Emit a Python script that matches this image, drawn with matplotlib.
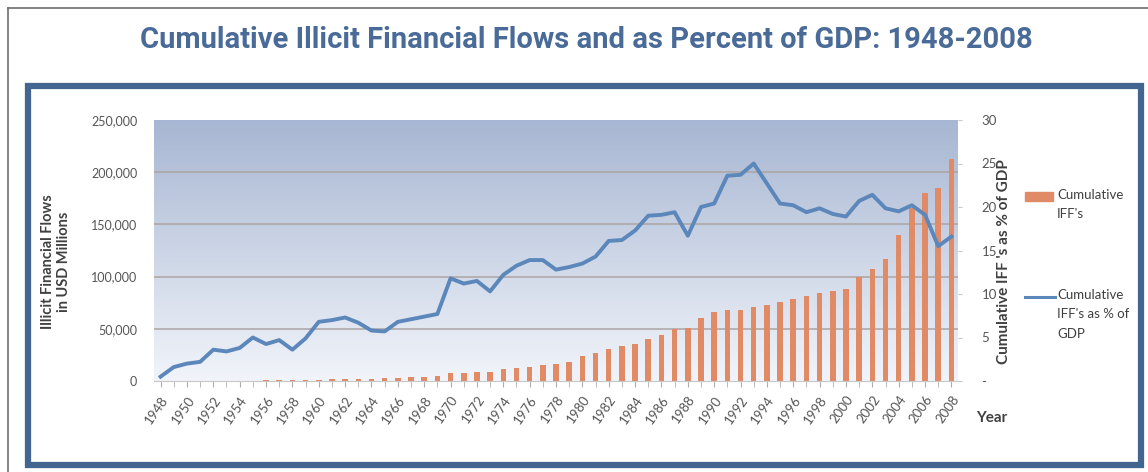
import numpy as np
import matplotlib
matplotlib.use("Agg")
import matplotlib.pyplot as plt
from matplotlib.patches import Rectangle
from matplotlib.lines import Line2D

years = list(range(1948, 2009))

# cumulative illicit financial flows, USD millions
iff = [100, 150, 200, 250, 300, 350, 400, 450,
       500, 600, 800, 1000, 1300, 1500, 1800, 2000, 2200, 2400, 2800,
       3500, 4100, 4800, 7700, 7700, 8600, 8600, 11200, 12100, 13700,
       15600, 16300, 18500, 23600, 26500, 31000, 33800, 35700, 40500,
       44000, 50000,
       51000, 60000, 66400, 68000, 68300, 70600, 73100, 75400, 78500,
       81400, 84600, 86500, 87800, 99900, 107600, 116900, 139600,
       165400, 180400, 184600, 212600]

# cumulative IFFs as % of GDP
pct = [0.5, 1.6, 2.0, 2.2, 3.6, 3.4, 3.8, 5.0, 4.25, 4.7, 3.6, 4.9,
       6.8, 7.0, 7.3, 6.7, 5.8, 5.7, 6.8,
       7.1, 7.4, 7.7, 11.8, 11.2, 11.5, 10.3, 12.2, 13.25, 13.9, 13.9,
       12.8, 13.1, 13.5, 14.3, 16.1, 16.2, 17.3, 19.0, 19.1, 19.4,
       16.7, 20.0, 20.4, 23.6, 23.7, 25.0, 22.7, 20.4, 20.2, 19.4,
       19.85, 19.2, 18.9, 20.7, 21.4, 19.85, 19.5, 20.2, 19.1, 15.5, 16.6]

left_ticks = [0, 50000, 100000, 150000, 200000, 250000]
left_labels = ["0", "50,000", "100,000", "150,000", "200,000", "250,000"]
right_ticks = [0, 5, 10, 15, 20, 25, 30]
right_labels = ["-", "5", "10", "15", "20", "25", "30"]
year_labels = [str(y) for y in years[::2]]

title = "Cumulative Illicit Financial Flows and as Percent of GDP: 1948-2008"
bar_name = "Cumulative\nIFF's"
line_name = "Cumulative\nIFF's as % of\nGDP"

bar_col = "#e08a66"
line_col = "#5b87ba"
txt_col = "#555555"
frame_col = "#42668f"

plt.rcParams["font.family"] = ["Lato", "DejaVu Sans"]

W, H = 1148, 472
fig = plt.figure(figsize=(W / 100, H / 100), dpi=100)
fig.patch.set_facecolor("white")

# outer grey border and blue frame
fig.add_artist(Line2D([8 / W, 8 / W], [0, 1 - 8 / H], color="#6e6e6e", lw=1.2))
fig.add_artist(Line2D([8 / W, 1], [1 - 8 / H, 1 - 8 / H], color="#6e6e6e", lw=1.2))
fig.add_artist(Rectangle((28 / W, 7 / H), (1141 - 28) / W, (386 - 7) / H,
                         transform=fig.transFigure, fill=False,
                         ec=frame_col, lw=4.5))

fig.text(586 / W, 1 - 40 / H, title, ha="center", va="center",
         fontsize=21, fontweight="bold", color="#4a6b98",
         family=["Roboto", "DejaVu Sans"])

ax = fig.add_axes([154 / W, 1 - 381 / H, (958 - 154) / W, (381 - 120) / H])
ax.set_xlim(1947.5, 2008.5)
ax.set_ylim(0, 250000)

# gradient background
grad = np.linspace(0, 1, 256).reshape(-1, 1)
top = np.array([0.655, 0.714, 0.824])
bot = np.array([0.945, 0.957, 0.980])
img = bot + (top - bot) * grad
ax.imshow(img.reshape(256, 1, 3), extent=[1947.5, 2008.5, 0, 250000],
          origin="lower", aspect="auto", zorder=0)

for v in left_ticks[1:-1]:
    ax.axhline(v, color="#aca4a2", lw=1.1, zorder=1)

ax.bar(years, iff, width=0.42, color=bar_col, zorder=2)

ax.set_yticks(left_ticks)
ax.set_yticklabels(left_labels)
ax.set_xticks(years, minor=True)
ax.set_xticks(years[::2])
ax.set_xticklabels(year_labels, rotation=55, ha="right", rotation_mode="anchor")
ax.tick_params(axis="x", which="both", length=4, color="#b0b0b0", labelsize=9.5,
               labelcolor=txt_col, pad=5)
ax.tick_params(axis="y", length=0, labelsize=9, labelcolor=txt_col, pad=12)
for s in ["top", "left", "right"]:
    ax.spines[s].set_visible(False)
ax.spines["bottom"].set_color("#c8c8c8")

ax2 = ax.twinx()
ax2.set_ylim(0, 30)
ax2.plot(years, pct, color=line_col, lw=2.8, solid_joinstyle="round", zorder=3)
ax2.set_yticks(right_ticks)
ax2.set_yticklabels(right_labels)
ax2.tick_params(axis="y", length=3, color="#c8c8c8", labelsize=9.5,
                labelcolor=txt_col, pad=14)
for s in ["top", "left", "right", "bottom"]:
    ax2.spines[s].set_visible(False)

fig.text(56 / W, 1 - 262 / H, "Illicit Financial Flows\nin USD Millions",
         rotation=90, ha="center", va="center", fontsize=10.5,
         fontweight="bold", color="#404040", linespacing=1.15)
fig.text(1004 / W, 1 - 262 / H, "Cumulative IFF 's as % of GDP",
         rotation=90, ha="center", va="center", fontsize=11,
         fontweight="bold", color="#404040")
fig.text(976 / W, 1 - 418 / H, "Year", ha="left", va="center",
         fontsize=11, fontweight="bold", color="#404040")

# legend keys, Excel style (key next to the first text line)
fig.add_artist(Rectangle((1025 / W, 1 - 201 / H), 28 / W, 9 / H,
                         transform=fig.transFigure, color=bar_col))
fig.text(1057 / W, 1 - 189 / H, bar_name, ha="left", va="top",
         fontsize=9.5, color="#404040", linespacing=1.75)
fig.add_artist(Line2D([1025 / W, 1055 / W], [1 - 297 / H, 1 - 297 / H],
                      color=line_col, lw=2.2))
fig.text(1057 / W, 1 - 289 / H, line_name, ha="left", va="top",
         fontsize=9.5, color="#404040", linespacing=1.75)

fig.savefig("out.png", dpi=100)
